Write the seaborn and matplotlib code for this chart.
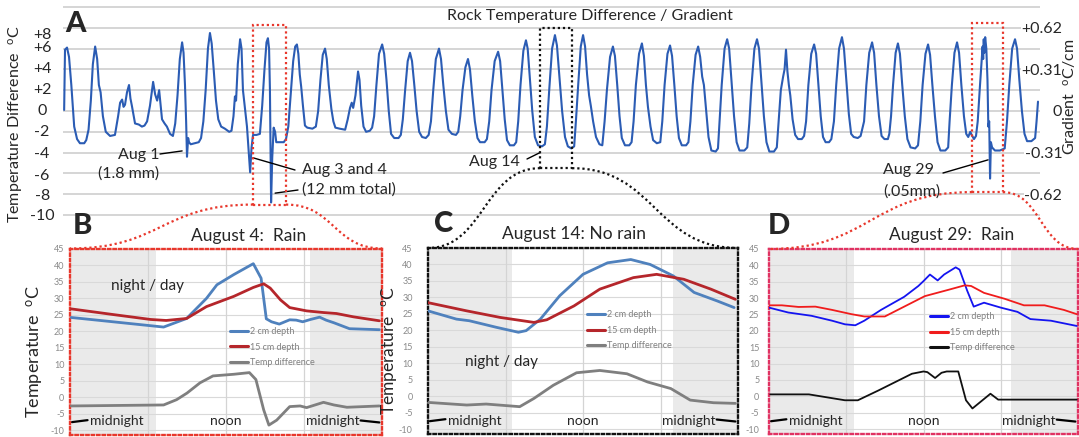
import matplotlib
matplotlib.use("Agg")
import matplotlib.pyplot as plt
import seaborn as sns
from matplotlib.patches import Rectangle, PathPatch
from matplotlib.path import Path
from matplotlib.transforms import IdentityTransform

# ---------------- data ----------------
# Panel A: rock temperature difference (deg C);
# time = days since 28 July 00:00, value = temperature difference
a_series = [
    (0.45, 0.1), (0.48, 5.9), (0.55, 6.1), (0.62, 5.2), (0.70, 2.5), (0.80, -1.5), (0.90, -2.7), (1.00, -3.1), (1.15, -3.1),
    (1.22, -2.8), (1.30, -1.8), (1.38, 1.0), (1.45, 4.5), (1.53, 6.2), (1.60, 5.0), (1.66, 2.5), (1.72, 1.8), (1.80, -0.5), (1.90, -2.0), (2.05, -2.4), (2.22, -2.3),
    (2.33, -0.5), (2.40, 0.8), (2.47, 1.1), (2.52, 0.4), (2.57, 0.6), (2.64, 1.8), (2.71, 2.5), (2.76, 1.2), (2.81, 0.5), (2.92, -1.2), (3.05, -1.3), (3.16, -1.5), (3.25, -1.4),
    (3.34, -1.0), (3.44, 0.5), (3.50, 1.8), (3.55, 2.8), (3.62, 1.6), (3.69, 1.0), (3.76, 2.0), (3.81, 0.6), (3.86, -0.8), (3.95, -1.2), (4.03, -1.5), (4.14, -2.2), (4.24, -2.4),
    (4.32, -1.2), (4.40, 1.5), (4.48, 5.0), (4.56, 6.6), (4.61, 5.6), (4.66, 2.5), (4.70, -1.0), (4.73, -4.4), (4.77, -2.6), (4.80, -3.0), (4.86, -3.2), (5.00, -3.1), (5.14, -3.0), (5.22, -2.6),
    (5.30, -1.0), (5.38, 2.0), (5.46, 6.0), (5.53, 7.5), (5.59, 6.5), (5.66, 4.0), (5.74, 1.0), (5.82, -0.8), (5.92, -1.5), (6.05, -1.7), (6.20, -2.0), (6.28, -1.9),
    (6.35, -0.5), (6.40, 1.4), (6.44, 1.0), (6.50, 4.5), (6.58, 6.9), (6.63, 6.0), (6.68, 2.0), (6.82, -1.5), (6.93, -5.9), (6.98, -3.5), (7.03, -2.3),
    (7.15, -2.3), (7.27, -2.2), (7.35, 0.5), (7.43, 4.0), (7.50, 6.6), (7.55, 7.0), (7.59, 6.0), (7.62, 2.0), (7.66, -8.8), (7.70, -4.5), (7.75, -1.6), (7.80, -2.0), (7.84, -3.0), (7.95, -3.0), (8.10, -3.0), (8.18, -2.7),
    (8.26, -1.5), (8.34, 1.5), (8.43, 4.8), (8.50, 6.2), (8.56, 6.4), (8.61, 5.5), (8.66, 3.5), (8.71, 2.3), (8.77, 0.5), (8.84, -1.4), (8.92, -1.6), (9.10, -1.7), (9.22, -1.5),
    (9.30, 0.0), (9.38, 3.0), (9.46, 5.4), (9.54, 6.0), (9.60, 5.0), (9.67, 2.5), (9.76, 0.2), (9.83, -1.0), (9.90, -1.6), (10.05, -1.7), (10.24, -1.8),
    (10.33, -0.8), (10.41, 0.3), (10.47, 0.8), (10.52, 0.3), (10.60, 1.5), (10.69, 3.8), (10.74, 3.0), (10.80, 0.5), (10.88, -1.5), (10.97, -2.0), (11.10, -1.9), (11.18, -1.6),
    (11.25, -0.5), (11.33, 2.5), (11.42, 5.5), (11.53, 6.4), (11.60, 5.5), (11.68, 3.0), (11.76, 0.0), (11.84, -2.2), (11.95, -2.6), (12.10, -2.6), (12.18, -2.3),
    (12.25, -0.8), (12.33, 2.0), (12.42, 4.8), (12.50, 5.6), (12.57, 4.8), (12.65, 2.5), (12.73, 0.0), (12.82, -2.0), (12.92, -2.5), (13.05, -2.6), (13.15, -2.3),
    (13.23, -1.0), (13.31, 2.0), (13.40, 5.0), (13.51, 6.0), (13.58, 5.0), (13.66, 2.5), (13.75, 0.0), (13.84, -1.8), (13.96, -2.2), (14.10, -2.3), (14.18, -2.0),
    (14.25, -0.5), (14.33, 2.0), (14.43, 4.2), (14.52, 5.0), (14.59, 4.0), (14.67, 1.5), (14.76, -1.0), (14.85, -2.6), (14.94, -3.0), (15.10, -3.0), (15.18, -2.7),
    (15.26, -1.0), (15.34, 2.0), (15.45, 4.8), (15.57, 5.7), (15.64, 4.8), (15.72, 2.0), (15.80, -0.8), (15.88, -2.8), (15.98, -3.3), (16.12, -3.3), (16.20, -3.0),
    (16.27, -1.0), (16.35, 2.5), (16.45, 5.8), (16.54, 6.8), (16.60, 6.0), (16.68, 3.0), (16.76, 0.0), (16.85, -2.5), (16.96, -3.3), (17.10, -3.4), (17.20, -3.2),
    (17.27, -1.5), (17.35, 2.0), (17.45, 6.0), (17.55, 7.3), (17.62, 6.3), (17.70, 3.5), (17.80, 0.0), (17.90, -2.5), (18.00, -3.4), (18.12, -3.6), (18.22, -3.4),
    (18.28, -1.0), (18.36, 2.5), (18.45, 6.2), (18.53, 7.3), (18.60, 6.2), (18.67, 3.5), (18.74, 1.5), (18.80, 0.5), (18.88, -1.0), (18.98, -2.5), (19.10, -3.2), (19.20, -3.3),
    (19.28, -1.0), (19.36, 2.0), (19.47, 5.2), (19.57, 6.2), (19.64, 5.3), (19.72, 2.5), (19.80, -0.5), (19.88, -2.6), (19.99, -3.3), (20.14, -3.3), (20.22, -3.0),
    (20.29, -1.0), (20.37, 2.5), (20.48, 5.5), (20.58, 6.5), (20.65, 5.3), (20.72, 2.5), (20.79, 0.4), (20.88, -1.5), (20.97, -2.8), (21.10, -3.1), (21.22, -3.0),
    (21.29, -1.0), (21.37, 2.5), (21.47, 5.5), (21.56, 6.3), (21.63, 5.3), (21.71, 2.5), (21.79, -0.5), (21.87, -2.6), (21.97, -3.3), (22.12, -3.3), (22.20, -3.0),
    (22.27, -1.0), (22.35, 2.5), (22.45, 5.4), (22.54, 6.2), (22.61, 5.2), (22.68, 3.3), (22.74, 2.5), (22.82, 0.0), (22.90, -2.5), (23.00, -3.8), (23.15, -3.9), (23.23, -3.6),
    (23.28, -1.2), (23.36, 2.5), (23.46, 6.0), (23.55, 6.9), (23.62, 6.0), (23.70, 3.0), (23.79, -0.5), (23.88, -3.0), (23.98, -3.8), (24.15, -3.8), (24.25, -3.5),
    (24.32, -1.2), (24.40, 2.5), (24.50, 6.0), (24.59, 6.9), (24.66, 6.0), (24.74, 3.0), (24.83, -0.5), (24.92, -3.0), (25.02, -3.9), (25.18, -3.9), (25.28, -3.5),
    (25.34, -1.2), (25.42, 2.0), (25.50, 3.3), (25.55, 4.0), (25.60, 5.9), (25.65, 3.8), (25.70, 2.5), (25.75, 1.5), (25.83, -0.8), (25.92, -2.3), (26.02, -2.7), (26.15, -2.7), (26.23, -2.4),
    (26.30, -1.0), (26.38, 2.5), (26.48, 5.5), (26.58, 6.4), (26.65, 5.5), (26.73, 2.5), (26.81, -0.5), (26.89, -2.5), (26.98, -3.0), (27.10, -3.0), (27.18, -2.7),
    (27.27, -1.0), (27.35, 2.5), (27.45, 6.0), (27.55, 7.1), (27.62, 6.0), (27.70, 3.0), (27.79, -0.3), (27.87, -2.2), (27.96, -2.5), (28.10, -2.6), (28.20, -2.4),
    (28.32, -1.0), (28.40, 2.5), (28.50, 5.6), (28.60, 6.6), (28.67, 5.6), (28.75, 2.5), (28.84, -0.5), (28.93, -2.4), (29.03, -2.7), (29.15, -2.7), (29.20, -2.2),
    (29.26, -0.5), (29.33, 2.5), (29.42, 5.6), (29.50, 6.5), (29.57, 5.5), (29.65, 2.5), (29.74, -0.5), (29.83, -2.7), (29.94, -3.5), (30.10, -3.6), (30.20, -3.3),
    (30.28, -1.0), (30.36, 2.5), (30.46, 5.5), (30.55, 6.4), (30.62, 5.4), (30.70, 2.5), (30.79, -0.5), (30.88, -3.0), (30.98, -3.8), (31.15, -3.8), (31.25, -3.5),
    (31.30, -1.0), (31.38, 2.5), (31.47, 5.6), (31.56, 6.6), (31.63, 5.6), (31.71, 2.5), (31.80, -0.5), (31.88, -2.2), (31.95, -2.5), (32.02, -2.0), (32.07, -2.3), (32.15, -2.7), (32.22, -2.4),
    (32.28, -1.0), (32.36, 2.5), (32.45, 6.2), (32.47, 5.0), (32.49, 6.9), (32.51, 5.6), (32.54, 7.1), (32.58, 6.0), (32.62, 3.0), (32.65, -1.5), (32.68, -1.0), (32.71, -6.5), (32.74, -3.0), (32.78, -3.5), (32.88, -3.8), (33.05, -3.8), (33.22, -3.6),
    (33.30, -1.0), (33.38, 2.5), (33.48, 6.0), (33.58, 6.9), (33.65, 6.0), (33.73, 3.0), (33.82, 0.0), (33.91, -2.2), (34.00, -2.9), (34.15, -2.9), (34.28, -2.6),
    (34.33, -1.0), (34.38, 0.9),
]
a_day = [p[0] for p in a_series]
a_diff = [p[1] for p in a_series]

left_tick_labels = ['+8', '+6', '+4', '+2', '0', '-2', '-4', '-6', '-8', '-10']
right_tick_vals = [0.62, 0.31, 0.0, -0.31, -0.62]
right_tick_labels = ['+0.62', '+0.31', '0', '-0.31', '-0.62']

# zoomed days (days since 28 July): Aug 4, Aug 14, Aug 29
zoom_start = [7.03, 17.03, 32.08]
zoom_end = [8.18, 18.15, 33.16]
zoom_top = [8.3, 8.0, 8.5]
zoom_bottom = [-9.0, -5.5, -7.8]

# Panel B: August 4 (rain) ; hours of day
b_hr_2cm = [0.1, 3.3, 7.2, 8.97, 10.5, 11.3, 12.6, 14.1, 14.7, 15.1, 15.5, 16.1, 16.9, 17.4, 17.9,
            18.5, 19.2, 19.7, 20.3, 21.5, 23.8]
b_2cm = [24.1, 22.8, 21.2, 23.8, 29.9, 34.0, 37.1, 40.4, 36.0, 23.7, 22.8, 22.1, 23.4, 23.3, 22.8,
         23.5, 24.2, 23.3, 22.5, 20.7, 20.4]
b_hr_15cm = [0.1, 3.3, 6.2, 7.4, 8.97, 10.5, 12.6, 14.1, 14.9, 15.4, 16.2, 16.9, 18.2, 19.5, 20.5,
             21.8, 23.8]
b_15cm = [26.7, 25.0, 23.5, 23.2, 23.8, 27.4, 30.5, 33.2, 34.3, 33.0, 29.4, 27.1, 26.1, 25.6, 25.3,
          24.3, 23.1]
b_hr_diff = [0.1, 7.2, 8.2, 9.0, 10.0, 11.0, 12.6, 13.8, 14.3, 14.9, 15.3, 15.9, 16.9, 17.7, 18.2,
             19.5, 20.3, 21.3, 23.8]
b_diff = [-2.7, -2.4, -0.8, 1.2, 4.3, 6.4, 6.9, 7.4, 5.3, -3.9, -8.5, -7.0, -2.9, -2.7, -3.2,
          -1.6, -2.4, -3.1, -2.7]

# Panel C: August 14 (no rain)
c_hr_2cm = [0.0, 2.2, 3.2, 5.3, 7.0, 7.6, 8.7, 10.2, 12.0, 13.9, 15.7, 17.2, 19.0, 20.6, 22.4, 23.7]
c_2cm = [25.9, 23.4, 22.9, 20.9, 19.4, 19.9, 23.4, 30.5, 37.0, 40.5, 41.5, 40.0, 36.5, 31.5, 28.9, 26.9]
c_hr_15cm = [0.0, 3.0, 5.6, 8.2, 9.2, 11.3, 13.3, 15.9, 17.7, 19.8, 21.9, 23.8]
c_15cm = [28.4, 25.9, 23.9, 22.4, 23.2, 27.4, 32.5, 36.0, 37.0, 35.5, 32.5, 29.4]
c_hr_diff = [0.0, 3.0, 4.5, 7.1, 8.2, 9.7, 11.5, 13.3, 15.4, 17.0, 18.8, 20.3, 22.1, 23.8]
c_diff = [-1.9, -2.7, -2.4, -3.2, -0.7, 3.3, 7.1, 7.8, 6.8, 4.3, 2.3, -1.2, -2.0, -2.2]

# Panel D: August 29 (rain)
d_hr_2cm = [0.0, 1.5, 3.3, 4.9, 5.9, 6.7, 7.4, 8.7, 10.5, 11.6, 12.0, 12.5, 13.1, 13.6, 14.5, 14.8,
            15.4, 15.9, 16.7, 18.0, 19.3, 20.3, 21.9, 23.9]
d_2cm = [27.1, 25.6, 24.6, 23.1, 22.0, 21.7, 23.1, 26.4, 30.4, 33.7, 35.2, 37.2, 35.4, 37.2, 39.4, 38.7,
         32.2, 27.4, 28.6, 27.1, 25.8, 23.6, 23.1, 21.5]
d_hr_15cm = [0.0, 1.0, 2.3, 3.6, 4.9, 6.4, 7.4, 9.0, 10.5, 12.1, 13.9, 15.2, 15.7, 16.7, 18.3, 19.8,
             21.4, 22.9, 23.9]
d_15cm = [27.8, 27.8, 27.3, 27.4, 26.4, 25.1, 24.4, 24.4, 27.4, 30.6, 32.5, 33.9, 33.7, 31.6, 29.8, 27.8,
          27.8, 26.4, 25.1]
d_hr_diff = [0.1, 3.1, 5.9, 6.9, 8.5, 11.1, 12.0, 12.3, 12.9, 13.4, 13.8, 14.7, 15.3, 15.8, 17.2, 17.8, 23.9]
d_diff = [0.6, 0.6, -1.2, -1.2, 1.8, 6.9, 7.6, 7.4, 5.6, 7.2, 7.6, 7.6, -1.2, -3.7, 0.8, -1.0, -1.0]

series_labels = ['2 cm depth', '15 cm depth', 'Temp difference']
panel_titles = ['August 4:  Rain', 'August 14: No rain', 'August 29:  Rain']
night_end = [6.6, 6.5, 6.6]
night_start = [18.5, 19.0, 18.8]

# ---------------- style ----------------
sns.set_style("white")
plt.rcParams['font.family'] = ['Lato', 'DejaVu Sans']
plt.rcParams['mathtext.default'] = 'regular'

W, H = 1079, 437
fig = plt.figure(figsize=(W / 100, H / 100), dpi=100)


def rect(x0, y0, x1, y1):
    return [x0 / W, 1 - y1 / H, (x1 - x0) / W, (y1 - y0) / H]


def P(x, y):
    return (x / W, 1 - y / H)


DOT = (0, (1, 1.3))

# ---------------- panel A ----------------
axA = fig.add_axes(rect(63, 3.9, 1040, 218.1))
axA.set_xlim(0.41, 34.45)
axA.set_ylim(-10.3, 10.3)
for v in range(-10, 11, 2):
    axA.axhline(v, color='#d2d2d2', lw=1.3, zorder=0)
sns.lineplot(x=a_day, y=a_diff, ax=axA, color='#2b5cb4', lw=1.5, sort=False, estimator=None, zorder=3)
axA.set_xticks([])
axA.set_yticks([7.5, 6.2, 4.2, 2.2, 0.1, -1.9, -4.0, -6.1, -8.0, -10.0])
axA.set_yticklabels(left_tick_labels, fontsize=11.5)
for lab in axA.get_yticklabels():
    lab.set_horizontalalignment('center')
axA.tick_params(axis='y', length=0, pad=15)
for s in axA.spines.values():
    s.set_visible(False)
axA.set_xlabel('')
axA.set_ylabel('')

axR = axA.twinx()
axR.set_ylim(-10.3 * 0.0775, 10.3 * 0.0775)
axR.set_yticks(right_tick_vals)
axR.set_yticklabels(right_tick_labels, fontsize=11.5)
for lab in axR.get_yticklabels():
    lab.set_horizontalalignment('right')
    lab.set_bbox(dict(facecolor='white', edgecolor='none', pad=0.3))
axR.tick_params(axis='y', length=0, pad=16)
for s in axR.spines.values():
    s.set_visible(False)

box_colors = ['#e8372c', '#111111', '#e8372c']
for t0, t1, vt, vb, c in zip(zoom_start, zoom_end, zoom_top, zoom_bottom, box_colors):
    axA.add_patch(Rectangle((t0, vb), t1 - t0, vt - vb, fill=False, ec=c, lw=1.6, ls=DOT, zorder=4))

fig.text(*P(590, 16), 'Rock Temperature Difference / Gradient', ha='center', va='center', fontsize=11.5)
fig.text(*P(17, 124), r'Temperature Difference  $^{o}$C', rotation=90, ha='center', va='center', fontsize=11.5)
fig.text(*P(1070, 97), r'Gradient  $^{o}$C/cm', rotation=90, ha='center', va='center', fontsize=11.5)

# annotations
ann = dict(arrowstyle='-', lw=1.0, color='black', shrinkA=0, shrinkB=0)
axA.annotate('', xy=(4.56, -3.84), xycoords='data', xytext=P(160, 154), textcoords='figure fraction', arrowprops=ann)
axA.annotate('', xy=(7.03, -4.5), xycoords='data', xytext=P(295, 170), textcoords='figure fraction', arrowprops=ann)
axA.annotate('', xy=(7.80, -7.9), xycoords='data', xytext=P(298, 190), textcoords='figure fraction', arrowprops=ann)
axA.annotate('', xy=(17.03, -4.0), xycoords='data', xytext=P(527, 159), textcoords='figure fraction', arrowprops=ann)
axA.annotate('', xy=(32.64, -4.7), xycoords='data', xytext=P(943, 173), textcoords='figure fraction', arrowprops=ann)
fs_ann = 11.5
fig.text(*P(139, 155), 'Aug 1', ha='center', va='center', fontsize=fs_ann)
fig.text(*P(129, 174), '(1.8 mm)', ha='center', va='center', fontsize=fs_ann)
fig.text(*P(302, 170), 'Aug 3 and 4', ha='left', va='center', fontsize=fs_ann)
fig.text(*P(302, 190), '(12 mm total)', ha='left', va='center', fontsize=fs_ann)
fig.text(*P(494, 162), 'Aug 14', ha='center', va='center', fontsize=fs_ann)
fig.text(*P(883, 170), 'Aug 29', ha='left', va='center', fontsize=fs_ann)
fig.text(*P(883, 192), '(.05mm)', ha='left', va='center', fontsize=fs_ann)

# ---------------- panels B, C, D ----------------
panel_rects = [(70, 248.5, 382, 435), (428, 248, 738, 434), (769, 249, 1078, 434)]
panel_pads = [4, 11, 7]
spine_colors = ['#e8372c', '#111111', '#e03262']
styles = [
    [('#4f81bd', 2.0), ('#b5262b', 2.0), ('#7f7f7f', 2.0)],
    [('#4f81bd', 2.0), ('#b5262b', 2.0), ('#7f7f7f', 2.0)],
    [('#1414f0', 1.3), ('#f01c1c', 1.3), ('#111111', 1.3)],
]
data = [
    [(b_hr_2cm, b_2cm), (b_hr_15cm, b_15cm), (b_hr_diff, b_diff)],
    [(c_hr_2cm, c_2cm), (c_hr_15cm, c_15cm), (c_hr_diff, c_diff)],
    [(d_hr_2cm, d_2cm), (d_hr_15cm, d_15cm), (d_hr_diff, d_diff)],
]
legend_anchor = [(0.513, 0.58), (0.513, 0.667), (0.521, 0.66)]
title_pos = [(249, 236), (574, 234), (952, 235)]
letter_pos = [('B', 82, 226), ('C', 444, 224), ('D', 779, 226)]

axes_p = []
for i in range(3):
    ax = fig.add_axes(rect(*panel_rects[i]))
    axes_p.append(ax)
    ax.set_xlim(0, 24)
    ax.set_ylim(-11.5, 45)
    ax.axvspan(0, night_end[i], color='#eaeaea', lw=0, zorder=0)
    ax.axvspan(night_start[i], 24, color='#eaeaea', lw=0, zorder=0)
    for v in range(-10, 46, 5):
        ax.axhline(v, color='#d9d9d9', lw=0.8, zorder=0.5)
    for h in (6, 12, 18):
        ax.axvline(h, color='#d4d4d4', lw=0.9, zorder=0.5)
    handles = []
    for (hx, hy), (col, lw), lab in zip(data[i], styles[i], series_labels):
        sns.lineplot(x=hx, y=hy, ax=ax, color=col, lw=lw, sort=False, estimator=None, zorder=3)
        handles.append(ax.lines[-1])
    leg = ax.legend(handles, series_labels, loc='upper left', bbox_to_anchor=legend_anchor[i],
                    frameon=False, fontsize=6.5, handlelength=2.0, handletextpad=0.2,
                    labelspacing=0.75, borderaxespad=0, borderpad=0, labelcolor='#808080')
    for lh in leg.get_lines():
        lh.set_linewidth(2.2)
    ax.set_xticks([])
    ax.set_yticks(range(-10, 46, 5))
    ax.set_yticklabels([str(v) for v in range(-10, 46, 5)], fontsize=6.5, color='#8a8a8a')
    ax.tick_params(axis='y', length=0, pad=panel_pads[i])
    ax.set_xlabel('')
    ax.set_ylabel('')
    for s in ax.spines.values():
        s.set_linestyle(DOT)
        s.set_color(spine_colors[i])
        s.set_linewidth(1.7)
    ax.text(3.6, -7.4, 'midnight', ha='center', va='center', fontsize=10)
    ax.text(12.0, -7.4, 'noon', ha='center', va='center', fontsize=10)
    ax.text(20.2, -7.4, 'midnight', ha='center', va='center', fontsize=10)
    ax.plot([0.15, 1.35], [-7.6, -7.0], color='black', lw=1.6)
    ax.plot([22.35, 23.8], [-7.1, -7.7], color='black', lw=1.6)
    fig.text(*P(*title_pos[i]), panel_titles[i], ha='center', va='center', fontsize=12.5)
    L, lx, ly = letter_pos[i]
    fig.text(*P(lx, ly), L, ha='center', va='center', fontsize=21, fontweight='black')

fig.text(*P(76, 24), 'A', ha='center', va='center', fontsize=21, fontweight='black')

axes_p[0].text(6.0, 33.5, 'night / day', ha='center', va='center', fontsize=11)
axes_p[1].text(5.7, 10.3, 'night / day', ha='center', va='center', fontsize=11)

fig.text(*P(35, 351), r'Temperature  $^{o}$C', rotation=90, ha='center', va='center', fontsize=13)
fig.text(*P(389, 351), r'Temperature  $^{o}$C', rotation=90, ha='center', va='center', fontsize=12.5)

# ---------------- connectors from zoom boxes to panels ----------------
conn_colors = ['#e8372c', '#111111', '#e8372c']
for i in range(3):
    bl = axA.transData.transform((zoom_start[i], zoom_bottom[i]))
    br = axA.transData.transform((zoom_end[i], zoom_bottom[i]))
    pl = axes_p[i].transAxes.transform((0, 1))
    pr = axes_p[i].transAxes.transform((1, 1))
    for b, p in ((bl, pl), (br, pr)):
        dx = p[0] - b[0]
        verts = [tuple(b), (b[0] + 0.5 * dx, b[1]), (p[0] - 0.5 * dx, p[1]), tuple(p)]
        path = Path(verts, [Path.MOVETO, Path.CURVE4, Path.CURVE4, Path.CURVE4])
        fig.add_artist(PathPatch(path, fill=False, ec=conn_colors[i], lw=1.6, ls=DOT,
                                 transform=IdentityTransform()))

fig.savefig('out.png', dpi=100)
